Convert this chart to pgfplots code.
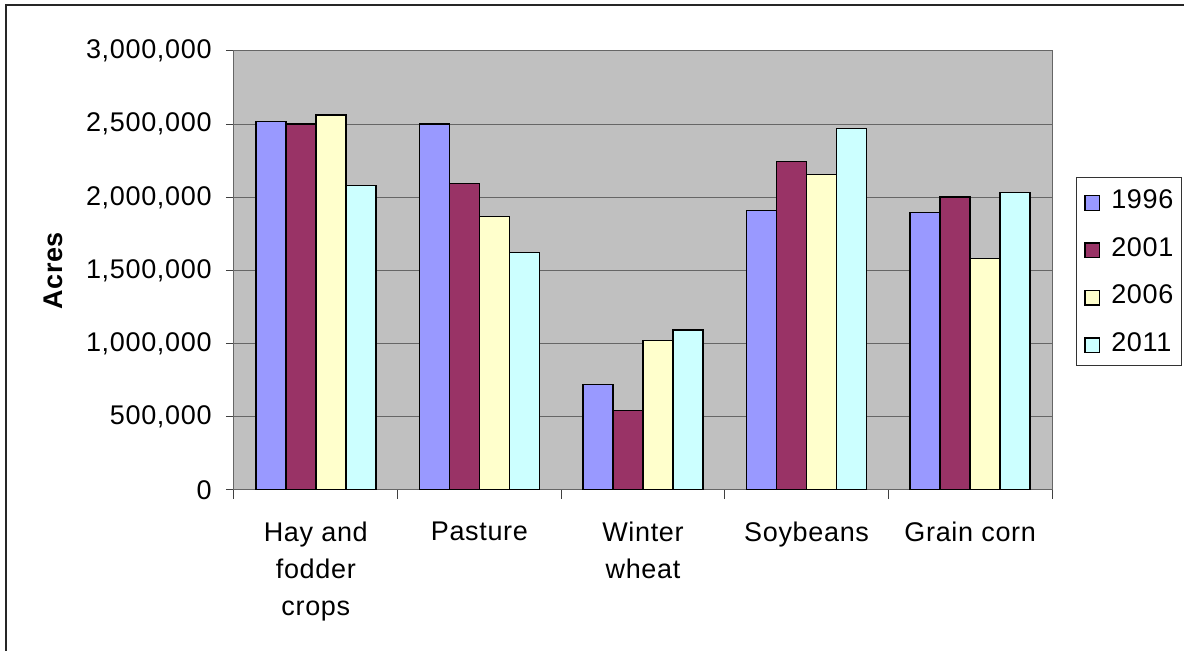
\documentclass[border=0pt]{standalone}
\usepackage{fontspec}
\setmainfont{Liberation Sans}[LetterSpace=2.5]
\usepackage{pgfplots}
\pgfplotsset{compat=1.18}
\definecolor{c96}{HTML}{9999FF}
\definecolor{c01}{HTML}{993366}
\definecolor{c06}{HTML}{FFFFCC}
\definecolor{c11}{HTML}{CCFFFF}
\definecolor{plotbg}{HTML}{C0C0C0}
\begin{document}
\begin{tikzpicture}
\useasboundingbox (0,0) rectangle (592pt,325.5pt);
\fill[white] (0,0) rectangle (592pt,325.5pt);
\draw[line width=0.6pt, black!85] (3pt,-10pt) -- (3pt,323pt) -- (610pt,323pt);
\begin{axis}[
  at={(117pt,80.5pt)}, anchor=south west,
  width=409pt, height=219.5pt, scale only axis,
  ybar=0pt, bar width=15pt,
  xmin=-0.5, xmax=4.5, ymin=0, ymax=3000000,
  ytick={0,500000,1000000,1500000,2000000,2500000,3000000},
  scaled y ticks=false,
  yticklabel style={font=\fontsize{13.5}{16}\selectfont, inner sep=0pt, /pgf/number format/.cd, fixed, 1000 sep={,}, assume math mode=true},
  xticklabel style={font=\fontsize{13.5}{18.5}\selectfont, align=center, inner sep=0pt},
  yticklabel shift=7pt,
  xticklabel shift=12pt,
  axis background/.style={fill=plotbg},
  ymajorgrids, major grid style={black!60, line width=0.5pt},
  axis line style={black!60, line width=0.5pt},
  tick align=outside, major tick length=4pt,
  ytick pos=left, xtick pos=bottom,
  ytick style={black!75, line width=0.5pt},
  xtick={0,1,2,3,4},
  xticklabels={{Hay and\\fodder\\crops},{Pasture},{Winter\\wheat},{Soybeans},{Grain corn}},
  major x tick style={draw=none},
  extra x ticks={-0.5,0.5,1.5,2.5,3.5,4.5},
  extra x tick labels={},
  extra x tick style={major x tick style={draw=black!75, line width=0.5pt}, major tick length=4.5pt},
  ylabel={\textbf{Acres}},
  ylabel style={font=\fontsize{13.5}{16}\selectfont, at={(axis description cs:-0.2213,0.5)}, anchor=center},
  every axis plot/.append style={draw=black, line width=0.75pt},
  legend style={at={(axis description cs:1.0293,0.713)}, anchor=north west,
    draw=black!80, line width=0.5pt, fill=white,
    font=\fontsize{13.5}{16}\selectfont,
    inner xsep=4pt, inner ysep=6pt, row sep=13.1pt, column sep=5.5pt,
    nodes={inner sep=0pt, text height=9.67pt, text depth=0pt}},
  legend cell align=left,
  legend image code/.code={\draw[#1, line width=0.6pt] (0pt,-5.5pt) rectangle (7.3pt,1.8pt);},
]
\addplot[fill=c96] coordinates {(0,2517000) (1,2500000) (2,722000) (3,1911000) (4,1895000)};
\addplot[fill=c01] coordinates {(0,2501000) (1,2096000) (2,542000) (3,2246000) (4,2002000)};
\addplot[fill=c06] coordinates {(0,2563000) (1,1868000) (2,1020000) (3,2155000) (4,1583000)};
\addplot[fill=c11] coordinates {(0,2080000) (1,1624000) (2,1095000) (3,2469000) (4,2032000)};
\legend{1996,2001,2006,2011}
\end{axis}
\end{tikzpicture}
\end{document}
